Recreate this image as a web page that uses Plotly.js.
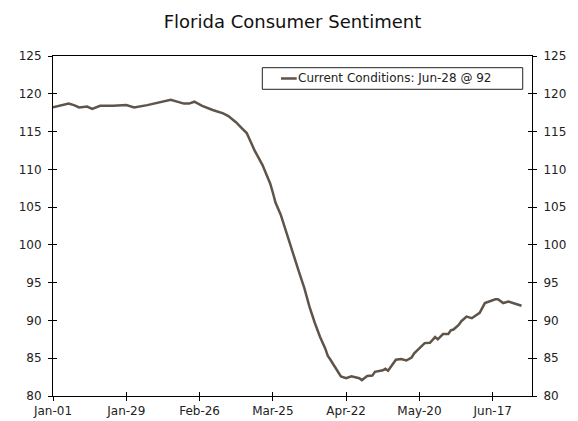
<!DOCTYPE html>
<html>
<head>
<meta charset="utf-8">
<script src="https://cdn.plot.ly/plotly-3.0.1.min.js"></script>
<style>html,body{margin:0;padding:0;background:#fff;}#chart{width:578px;height:421px;}</style>
</head>
<body>
<div id="chart"></div>
<script>
// Florida Consumer Sentiment, Current Conditions, 2020
const dates = [
  "2020-01-01","2020-01-04","2020-01-07","2020-01-09","2020-01-11","2020-01-14","2020-01-16","2020-01-19",
  "2020-01-24","2020-01-29","2020-02-01","2020-02-06","2020-02-11","2020-02-15","2020-02-20","2020-02-22",
  "2020-02-24","2020-02-27","2020-03-02","2020-03-06","2020-03-08","2020-03-10","2020-03-11","2020-03-13",
  "2020-03-15","2020-03-17","2020-03-18","2020-03-21","2020-03-23","2020-03-24","2020-03-25","2020-03-26",
  "2020-03-28","2020-03-31","2020-04-02","2020-04-04","2020-04-06","2020-04-08","2020-04-10","2020-04-12",
  "2020-04-14","2020-04-15","2020-04-16","2020-04-18","2020-04-19","2020-04-20","2020-04-22","2020-04-24",
  "2020-04-27","2020-04-28","2020-04-30","2020-05-02","2020-05-03","2020-05-06","2020-05-07","2020-05-08",
  "2020-05-11","2020-05-13","2020-05-15","2020-05-17","2020-05-18","2020-05-20","2020-05-22","2020-05-24",
  "2020-05-26","2020-05-27","2020-05-29","2020-05-31","2020-06-01","2020-06-02","2020-06-04","2020-06-05",
  "2020-06-07","2020-06-09","2020-06-10","2020-06-12","2020-06-14","2020-06-16","2020-06-18","2020-06-19",
  "2020-06-21","2020-06-23","2020-06-24","2020-06-25","2020-06-28"
];
const currentConditions = [
  118.2, 118.4, 118.7, 118.5, 118.2, 118.3, 118.0, 118.4,
  118.4, 118.5, 118.2, 118.5, 118.9, 119.2, 118.7, 118.7,
  118.95, 118.4, 117.85, 117.4, 117.05, 116.5, 116.2, 115.5,
  114.8, 113.3, 112.5, 110.6, 109.0, 108.1, 106.9, 105.6,
  104.0, 100.6, 98.5, 96.4, 94.3, 91.8, 89.7, 87.85,
  86.3, 85.3, 84.8, 83.7, 83.1, 82.6, 82.35, 82.6,
  82.35, 82.1, 82.65, 82.7, 83.2, 83.4, 83.6, 83.35,
  84.8, 84.9, 84.7, 85.1, 85.65, 86.3, 87.0, 87.05,
  87.8, 87.5, 88.2, 88.2, 88.7, 88.8, 89.4, 89.9,
  90.5, 90.3, 90.5, 91.0, 92.3, 92.6, 92.8, 92.8,
  92.3, 92.5, 92.4, 92.3, 91.95
];
const yTicks = [80, 85, 90, 95, 100, 105, 110, 115, 120, 125];
const xTickDates = ["2020-01-01","2020-01-29","2020-02-26","2020-03-25","2020-04-22","2020-05-20","2020-06-17"];
const xTickLabels = ["Jan-01","Jan-29","Feb-26","Mar-25","Apr-22","May-20","Jun-17"];

const months = ["Jan","Feb","Mar","Apr","May","Jun","Jul","Aug","Sep","Oct","Nov","Dec"];
const lastDate = dates[dates.length - 1];
const lastVal = currentConditions[currentConditions.length - 1];
const lastLabel = months[parseInt(lastDate.slice(5,7),10)-1] + "-" + lastDate.slice(8,10);
const seriesName = "Current Conditions: " + lastLabel + " @ " + Math.round(lastVal);

const FONT = "DejaVu Sans, Verdana, sans-serif";
const lineColor = "#5f5449";
const xRange = ["2020-01-01", "2020-07-02"];

const traces = [
  {x: dates, y: currentConditions, type: "scatter", mode: "lines",
   name: seriesName, line: {color: lineColor, width: 2.5}, hoverinfo: "skip", showlegend: false},
  // invisible copies so the helper axes (right labels, inside ticks) get drawn
  {x: dates, y: currentConditions, xaxis: "x", yaxis: "y2", type: "scatter", mode: "lines",
   line: {width: 0}, opacity: 0, hoverinfo: "skip", showlegend: false},
  {x: dates, y: currentConditions, xaxis: "x2", yaxis: "y3", type: "scatter", mode: "lines",
   line: {width: 0}, opacity: 0, hoverinfo: "skip", showlegend: false}
];

const baseY = {range: [80, 125], tickvals: yTicks, showgrid: false, zeroline: false, fixedrange: true};

// custom legend box (paper coords)
const legBox = {x0: 0.437, x1: 0.9806, y0: 0.9021, y1: 0.9656};
const legMidY = (legBox.y0 + legBox.y1) / 2;

const layout = {
  width: 578, height: 421,
  margin: {l: 53, r: 46, t: 56, b: 25, pad: 0},
  paper_bgcolor: "#fff", plot_bgcolor: "#fff",
  font: {family: FONT, size: 12, color: "#222"},
  title: {text: "Florida Consumer Sentiment", font: {family: FONT, size: 18, color: "#111"},
          x: 0.5, xanchor: "center", y: 0.948, yanchor: "middle", xref: "paper"},
  showlegend: false,
  shapes: [
    {type: "rect", xref: "paper", yref: "paper", x0: legBox.x0, x1: legBox.x1, y0: legBox.y0, y1: legBox.y1,
     line: {color: "#222", width: 1}, fillcolor: "#fff", layer: "above"},
    {type: "line", xref: "paper", yref: "paper", x0: 0.476, x1: 0.5088, y0: legMidY, y1: legMidY,
     line: {color: lineColor, width: 2.5}, layer: "above"}
  ],
  annotations: [
    {text: seriesName, xref: "paper", yref: "paper", x: 0.507, y: legMidY, xanchor: "left", yanchor: "middle",
     showarrow: false, font: {family: FONT, size: 12, color: "#222"}}
  ],
  xaxis: {type: "date", range: xRange, tickvals: xTickDates, ticktext: xTickLabels,
          ticks: "outside", ticklen: 4, tickcolor: "#000", showline: true, linecolor: "#000", linewidth: 1,
          mirror: true, showgrid: false, zeroline: false, fixedrange: true},
  xaxis2: {type: "date", range: xRange, tickvals: xTickDates, overlaying: "x", anchor: "y", side: "bottom",
           ticks: "inside", ticklen: 4, tickcolor: "#000", showticklabels: false, showline: false,
           showgrid: false, zeroline: false, fixedrange: true},
  yaxis: Object.assign({}, baseY, {ticks: "outside", ticklen: 4, tickcolor: "#000", showline: true,
          linecolor: "#000", linewidth: 1, mirror: true, side: "left", ticklabelstandoff: 4}),
  yaxis2: Object.assign({}, baseY, {overlaying: "y", side: "right", anchor: "x", ticks: "outside",
          ticklen: 4, tickcolor: "#000", showline: false, showticklabels: true, ticklabelstandoff: 4}),
  yaxis3: Object.assign({}, baseY, {overlaying: "y", side: "left", anchor: "x", ticks: "inside",
          ticklen: 4, tickcolor: "#000", mirror: "allticks", showline: false, showticklabels: false})
};

Plotly.newPlot("chart", traces, layout, {staticPlot: true, displayModeBar: false});
</script>
</body>
</html>
